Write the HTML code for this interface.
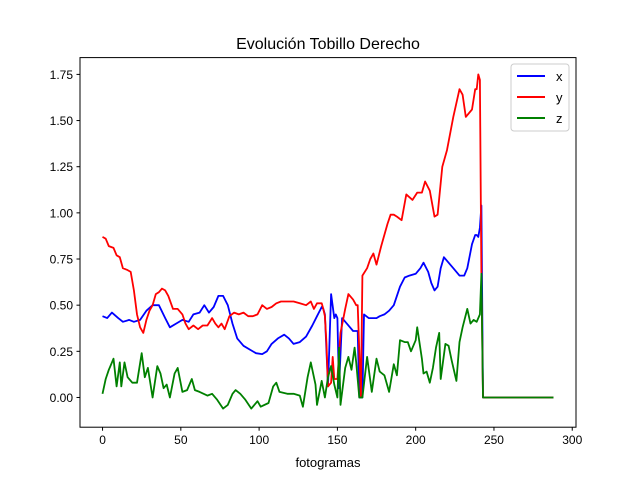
<!DOCTYPE html>
<html><head><meta charset="utf-8"><style>
body{margin:0;background:#fff;}
svg{font-family:"Liberation Sans","DejaVu Sans",sans-serif;}
</style></head><body>
<svg id="chart" width="640" height="480">
<rect width="640" height="480" fill="#fff"/>
<text x="328" y="49" font-size="16" text-anchor="middle">Evolución Tobillo Derecho</text>
<text x="328" y="467" font-size="13" text-anchor="middle">fotogramas</text>
<g id="ticks"></g>
<g id="series"></g>
<rect x="80" y="57.6" width="496" height="369.6" fill="none" stroke="#000" stroke-width="1"/>
<g>
<rect x="511" y="64" width="58" height="67" rx="3" fill="#fff" stroke="#ccc"/>
<line x1="517" y1="76" x2="545" y2="76" stroke="#0000ff" stroke-width="2"/>
<text x="556" y="81" font-size="13">x</text>
<line x1="517" y1="97" x2="545" y2="97" stroke="#ff0000" stroke-width="2"/>
<text x="556" y="102" font-size="13">y</text>
<line x1="517" y1="118" x2="545" y2="118" stroke="#008000" stroke-width="2"/>
<text x="556" y="123" font-size="13">z</text>
</g>
</svg>
<script>
const xTicks=[0,50,100,150,200,250,300];
const yTicks=[0,0.25,0.5,0.75,1.0,1.25,1.5,1.75];
const xFrames=[0,3,6,10,13,17,20,24,28,32,36,40,43,47,51,55,58,62,65,68,71,74,77,80,83,86,90,94,98,102,105,108,112,116,119,122,126,130,134,137,140,141,142,144,146,148,149,150,151,153,156,160,163,164,166,167,170,175,177,180,183,186,190,193,196,200,203,205,208,210,212,214,216,218,221,224,228,231,233,236,238,239,240,241,242,243,288];
const xValues=[0.44,0.43,0.46,0.43,0.41,0.42,0.41,0.42,0.47,0.50,0.50,0.43,0.38,0.40,0.42,0.41,0.45,0.46,0.50,0.46,0.49,0.55,0.55,0.50,0.40,0.32,0.28,0.26,0.24,0.235,0.25,0.29,0.32,0.34,0.32,0.29,0.30,0.33,0.39,0.44,0.49,0.48,0.45,0.06,0.56,0.43,0.45,0.43,0.05,0.43,0.40,0.36,0.36,0.0,0.0,0.45,0.43,0.43,0.44,0.45,0.47,0.50,0.60,0.65,0.66,0.67,0.70,0.73,0.68,0.62,0.58,0.60,0.70,0.76,0.73,0.70,0.66,0.66,0.70,0.83,0.88,0.88,0.87,0.92,1.04,0,0];
const yFrames=[0,2,4,7,9,11,13,16,18,20,22,24,26,28,30,32,34,36,38,40,42,45,48,51,53,55,58,61,64,67,70,72,74,76,78,81,84,87,90,93,96,99,102,105,108,111,114,118,122,126,130,133,135,137,140,141,142,143,144,146,147,148,150,152,155,157,160,162,163,165,166,169,171,173,175,178,182,184,186,188,191,194,198,201,204,206,209,212,214,217,220,224,228,230,232,236,238,239,240,241,242,243,288];
const yValues=[0.87,0.86,0.82,0.81,0.77,0.76,0.70,0.69,0.68,0.58,0.45,0.38,0.35,0.42,0.47,0.50,0.56,0.57,0.59,0.58,0.55,0.48,0.48,0.45,0.40,0.37,0.39,0.37,0.39,0.39,0.43,0.40,0.38,0.40,0.37,0.44,0.46,0.45,0.46,0.44,0.44,0.45,0.50,0.48,0.49,0.51,0.52,0.52,0.52,0.51,0.50,0.52,0.48,0.51,0.51,0.48,0.44,0.30,0.06,0.08,0.22,0.10,0.10,0.35,0.48,0.56,0.53,0.50,0.50,0.0,0.66,0.70,0.75,0.78,0.72,0.82,0.94,0.99,0.99,0.98,0.96,1.10,1.07,1.11,1.11,1.17,1.12,0.98,0.99,1.25,1.34,1.52,1.67,1.64,1.52,1.56,1.67,1.67,1.75,1.72,0.65,0,0];
const zFrames=[0,2,4,5,7,9,11,12,14,16,19,22,25,27,29,32,35,37,39,41,43,46,48,51,54,57,59,62,67,70,73,77,80,83,85,88,91,95,99,101,106,109,111,113,118,122,126,128,131,133,136,137,140,142,144,146,148,150,151,152,155,157,159,161,162,164,166,169,172,175,177,180,183,186,188,190,193,195,197,200,201,204,205,207,209,211,213,215,216,219,221,223,226,228,230,233,235,237,239,241,242,243,288];
const zValues=[0.02,0.10,0.15,0.17,0.21,0.06,0.19,0.06,0.19,0.11,0.08,0.08,0.24,0.11,0.16,0.0,0.17,0.13,0.05,0.07,0.0,0.13,0.16,0.03,0.04,0.10,0.04,0.03,0.01,0.02,-0.01,-0.06,-0.04,0.02,0.04,0.02,-0.01,-0.06,-0.02,-0.05,-0.03,0.06,0.08,0.03,0.02,0.02,0.01,-0.05,0.11,0.19,0.07,-0.04,0.09,0.0,0.11,0.17,0.07,0.0,0.27,-0.04,0.16,0.22,0.15,0.27,0.19,0.0,0.0,0.22,0.03,0.21,0.14,0.12,0.03,0.18,0.12,0.31,0.30,0.30,0.25,0.31,0.38,0.21,0.13,0.14,0.08,0.16,0.27,0.35,0.10,0.29,0.28,0.20,0.09,0.30,0.38,0.48,0.40,0.42,0.41,0.45,0.67,0,0];
const X0=-14.4,X1=302.4,Y0=-0.161,Y1=1.841,L=80,R=576,T=57.6,B=427.2;
function sx(v){return L+(v-X0)/(X1-X0)*(R-L);}
function sy(v){return B-(v-Y0)/(Y1-Y0)*(B-T);}
const NS="http://www.w3.org/2000/svg";
const tg=document.getElementById('ticks');
xTicks.forEach(t=>{
 const l=document.createElementNS(NS,'line');
 l.setAttribute('x1',sx(t));l.setAttribute('x2',sx(t));l.setAttribute('y1',B);l.setAttribute('y2',B+3.5);l.setAttribute('stroke','#000');
 
 
 tg.appendChild(l);
 const tx=document.createElementNS(NS,'text');
 tx.setAttribute('x',sx(t));tx.setAttribute('y',B+17);tx.setAttribute('font-size','12');tx.setAttribute('text-anchor','middle');tx.textContent=t;
 
 
 tg.appendChild(tx);
});
yTicks.forEach(t=>{
 const l=document.createElementNS(NS,'line');
 l.setAttribute('x1',L-3.5);l.setAttribute('x2',L);l.setAttribute('y1',sy(t));l.setAttribute('y2',sy(t));l.setAttribute('stroke','#000');
 
 
 tg.appendChild(l);
 const tx=document.createElementNS(NS,'text');
 tx.setAttribute('x',L-7);tx.setAttribute('y',sy(t)+4.5);tx.setAttribute('font-size','12');tx.setAttribute('text-anchor','end');tx.textContent=t.toFixed(2);
 
 
 tg.appendChild(tx);
});
const sg=document.getElementById('series');
[[xFrames,xValues,'#0000ff','series-x'],[yFrames,yValues,'#ff0000','series-y'],[zFrames,zValues,'#008000','series-z']].forEach(s=>{
 const p=document.createElementNS(NS,'polyline');
 p.setAttribute('points',s[0].map((f,i)=>sx(f).toFixed(1)+','+sy(s[1][i]).toFixed(1)).join(' '));
 p.setAttribute('fill','none');p.setAttribute('stroke',s[2]);p.setAttribute('stroke-width','1.8');p.setAttribute('stroke-linejoin','round');
 
 
 sg.appendChild(p);
});
</script>
</body></html>
